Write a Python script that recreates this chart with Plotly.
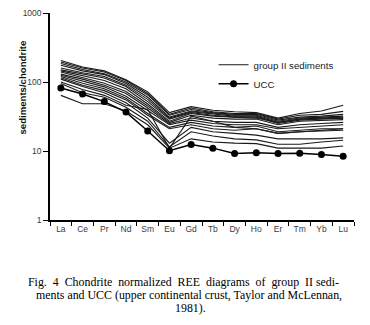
import plotly.graph_objects as go

elements = ["La", "Ce", "Pr", "Nd", "Sm", "Eu", "Gd", "Tb", "Dy", "Ho", "Er", "Tm", "Yb", "Lu"]

ucc = [82, 67, 52, 36.6, 19.5, 10.1, 12.4, 11.0, 9.2, 9.4, 9.2, 9.3, 8.9, 8.4]

s01 = [205, 165, 145, 108, 72, 36, 44, 39, 37, 36, 30, 35, 38, 46]
s02 = [195, 160, 140, 105, 68, 34, 42, 37, 35, 35, 29, 33, 34, 37.5]
s03 = [185, 152, 132, 100, 65, 33, 40, 36, 34, 34, 28, 31, 32, 34]
s04 = [175, 145, 128, 95, 60, 31, 38, 35, 33, 33, 27, 30, 31, 32]
s05 = [160, 136, 120, 90, 56, 30, 37, 34, 32, 32, 26, 29, 30, 31]
s06 = [150, 130, 114, 86, 52, 29, 36, 33, 31, 31, 25, 28, 29, 30]
s07 = [145, 122, 105, 80, 48, 27, 35, 32, 31, 30, 26, 29, 30, 30]
s08 = [140, 115, 96, 73, 45, 26, 33, 30, 29, 29, 24, 27, 27.5, 28.5]
s09 = [130, 110, 90, 68, 42, 25, 30, 27, 26, 26, 22, 24, 25, 26]
s10 = [125, 102, 85, 62, 38, 24, 28, 25, 24, 24, 21, 22, 23, 24]
s11 = [120, 96, 80, 58, 35, 22, 26, 23, 22, 23, 19, 20, 21, 21]
s12 = [115, 90, 75, 55, 33, 21, 24, 21, 20, 21, 18, 19, 19.5, 20]
s13 = [110, 86, 70, 50, 30, 13, 22, 19, 18, 17, 15, 15, 15, 15.5]
s14 = [100, 78, 64, 46, 40, 11, 32, 27, 22, 21, 18, 19, 20, 21]
s15 = [95, 70, 60, 43, 27, 11.5, 19, 16.5, 15, 14.5, 12.5, 12.5, 13.5, 14.3]
s16 = [64, 48.5, 48.5, 38, 24, 11, 15, 13.5, 13, 12.8, 11, 11, 11, 11.8]

samples = [s01, s02, s03, s04, s05, s06, s07, s08, s09, s10, s11, s12, s13, s14, s15, s16]

fig = go.Figure()
for i, s in enumerate(samples):
    fig.add_trace(go.Scatter(
        x=elements, y=s, mode="lines",
        line=dict(color="#1a1a1a", width=1.1),
        name="group II sediments", showlegend=(i == 0),
        hoverinfo="skip"))

fig.add_trace(go.Scatter(
    x=elements, y=ucc, mode="lines+markers",
    line=dict(color="black", width=1.5),
    marker=dict(color="black", size=7),
    name="UCC"))

sans = "Liberation Sans, Arial, sans-serif"
tickfont = dict(family=sans, size=8.5, color="#3a3a3a")

# page body has an 8px offset; figure is sized so the plot sits where the reference's does
L, T, W, H = 42, 5, 362, 317
PW, PH = 304, 207

fig.update_layout(
    width=W, height=H,
    margin=dict(l=L, r=W - L - PW, t=T, b=H - T - PH),
    paper_bgcolor="white", plot_bgcolor="white",
    showlegend=True,
    legend=dict(x=0.538, y=0.82, xanchor="left", yanchor="top",
                bgcolor="rgba(0,0,0,0)", tracegroupgap=0,
                font=dict(family=sans, size=9.7, color="#222"),
                itemwidth=30),
    xaxis=dict(type="category", range=[-0.5, 13.5], showline=True, linecolor="black",
               linewidth=1.5, ticks="outside", tickson="boundaries", ticklen=4,
               tickcolor="black", tickwidth=1, showgrid=False, zeroline=False,
               tickangle=0, automargin=False, tickfont=tickfont),
    yaxis=dict(type="log", range=[0, 3], showline=True, linecolor="black",
               linewidth=1.5, ticks="outside", ticklen=5, tickcolor="black",
               tickvals=[1, 10, 100, 1000], ticktext=["1", "10", "100", "1000"],
               showgrid=False, zeroline=False, tickfont=tickfont, automargin=False,
               ticklabeloverflow="allow"),
)

fig.add_annotation(text="<b>sediments/chondrite</b>", xref="paper", yref="paper",
                   x=(13.5 - L) / PW, y=(T + PH - 80) / PH, textangle=-90,
                   xanchor="center", yanchor="middle", showarrow=False,
                   font=dict(family=sans, size=9.6, color="#111"))

caption = ["Fig. \u00a04 \u00a0Chondrite \u00a0normalized \u00a0REE \u00a0diagrams \u00a0of \u00a0group \u00a0II sedi-",
           "ments and UCC (upper continental crust, Taylor and McLennan,",
           "1981)."]
cap_x = [175, 181, 182.5]
cap_y = [274, 287, 299.5]
for k, line in enumerate(caption):
    fig.add_annotation(text=line, xref="paper", yref="paper",
                       x=(cap_x[k] - L) / PW, y=-(cap_y[k] - (T + PH)) / PH,
                       xanchor="center", yanchor="middle", showarrow=False,
                       font=dict(family="Liberation Serif, Times New Roman, serif", size=11.9, color="black"))

fig.write_html("out.html")
